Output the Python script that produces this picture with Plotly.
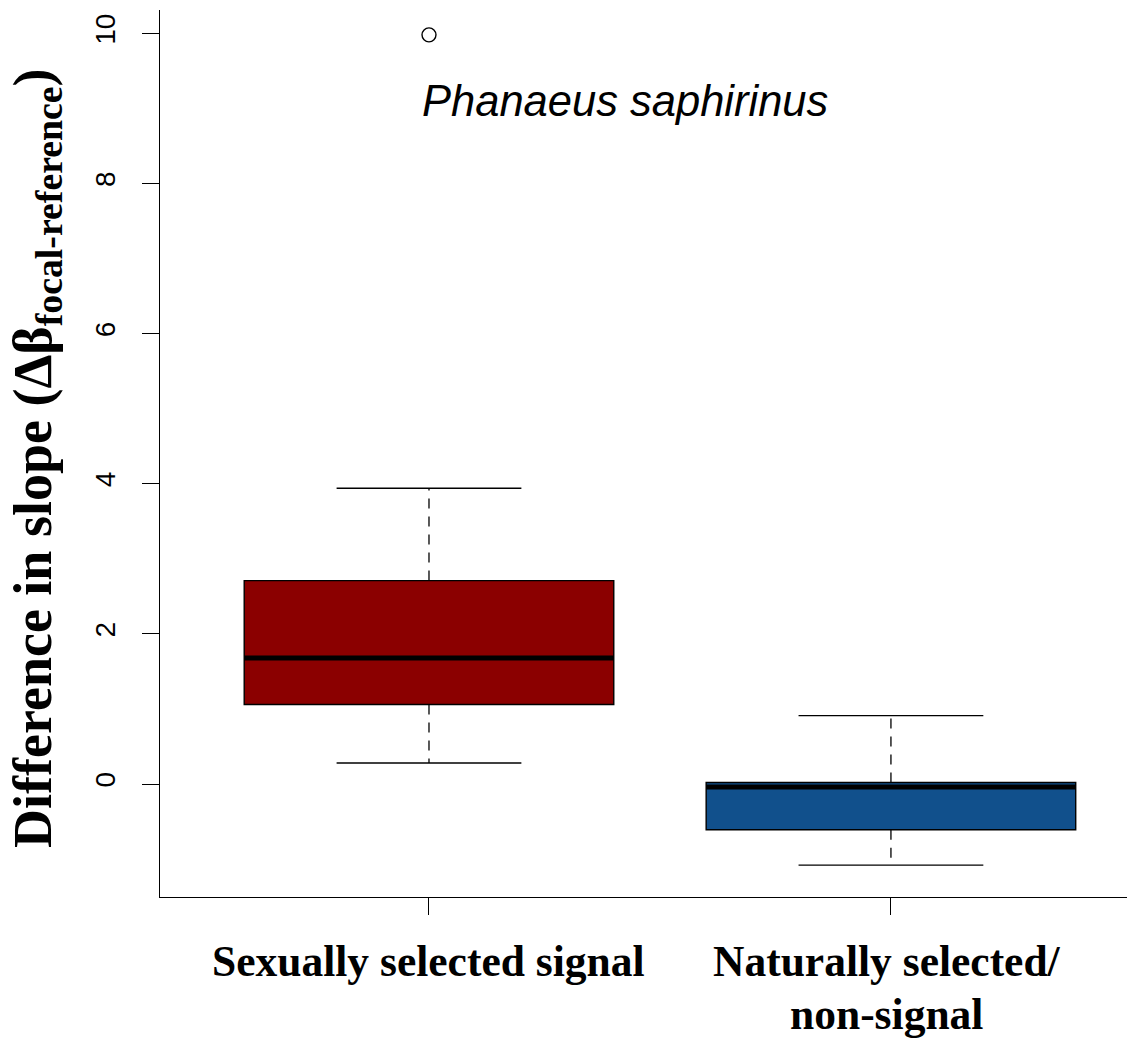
import plotly.graph_objects as go

# ---- data ----
positions = [1, 2]
label_lines = [["Sexually selected signal"], ["Naturally selected/", "non-signal"]]
q1 = [1.06, -0.61]
median = [1.68, -0.04]
q3 = [2.71, 0.02]
whisker_low = [0.28, -1.08]
whisker_high = [3.94, 0.91]
outlier_x = [1]
outlier_y = [9.98]
box_colors = ["#8B0000", "#11508C"]
y_ticks = [0, 2, 4, 6, 8, 10]
species = "Phanaeus saphirinus"

BOX_W = 0.8
CAP_W = 0.4
SERIF = "Liberation Serif, Times New Roman, serif"
SANS = "Liberation Sans, Arial, Helvetica, sans-serif"

fig = go.Figure()

for i, p in enumerate(positions):
    fig.add_trace(go.Box(
        x=[p], q1=[q1[i]], median=[median[i]], q3=[q3[i]],
        lowerfence=[q1[i]], upperfence=[q3[i]],
        width=BOX_W, whiskerwidth=0, boxpoints=False,
        fillcolor=box_colors[i], line=dict(color="black", width=1.4),
        showlegend=False, hoverinfo="skip"))
    # dashed whiskers
    for a, b in [(q3[i], whisker_high[i]), (q1[i], whisker_low[i])]:
        fig.add_trace(go.Scatter(
            x=[p, p], y=[a, b], mode="lines",
            line=dict(color="black", width=1.3, dash="10px,8px"),
            showlegend=False, hoverinfo="skip"))
    # caps
    for yv in [whisker_high[i], whisker_low[i]]:
        fig.add_trace(go.Scatter(
            x=[p - CAP_W / 2, p + CAP_W / 2], y=[yv, yv], mode="lines",
            line=dict(color="black", width=1.3),
            showlegend=False, hoverinfo="skip"))
    # median
    fig.add_trace(go.Scatter(
        x=[p - BOX_W / 2, p + BOX_W / 2], y=[median[i], median[i]], mode="lines",
        line=dict(color="black", width=5),
        showlegend=False, hoverinfo="skip"))

fig.add_trace(go.Scatter(
    x=outlier_x, y=outlier_y, mode="markers",
    marker=dict(symbol="circle-open", size=14, color="black", line=dict(width=1.4)),
    showlegend=False, hoverinfo="skip"))

W, H = 1127, 1038
PLOT_L, PLOT_T, PLOT_B, PLOT_R = 160, 10, 897, 1127
L = PLOT_L
T = PLOT_T
B = H - PLOT_B
R = W - PLOT_R
plot_h = PLOT_B - PLOT_T
plot_w = PLOT_R - PLOT_L

def py(ypix):
    return (PLOT_B - ypix) / plot_h

def px(xpix):
    return (xpix - PLOT_L) / plot_w

annotations = []
# category labels
label_y = [961, 961]
for i, p in enumerate(positions):
    for j, line in enumerate(label_lines[i]):
        annotations.append(dict(
            x=p, xref="x", y=py(label_y[i] + j * 53), yref="paper",
            text="<b>" + line + "</b>", showarrow=False,
            xanchor="center", yanchor="middle", xshift=-4 if i == 1 else 0,
            font=dict(family=SERIF, size=43.5, color="black")))

# y title
annotations.append(dict(
    x=px(36), xref="paper", y=py(458), yref="paper",
    text="<b>Difference in slope (Δβ<sub>focal-reference</sub>)</b>",
    textangle=-90, showarrow=False, xanchor="center", yanchor="middle",
    font=dict(family=SERIF, size=54, color="black")))

# species label
annotations.append(dict(
    x=px(625), xref="paper", y=py(101), yref="paper",
    text="<i>" + species + "</i>", showarrow=False,
    xanchor="center", yanchor="middle",
    font=dict(family=SANS, size=43.5, color="black")))

fig.update_layout(
    width=W, height=H,
    margin=dict(l=L, r=R, t=T, b=B),
    paper_bgcolor="white", plot_bgcolor="white",
    annotations=annotations,
    xaxis=dict(range=[0.4177, 2.511], tickvals=positions, showticklabels=False,
               ticks="outside", ticklen=17, tickwidth=1.3, tickcolor="black",
               showline=True, linecolor="black", linewidth=1.3,
               showgrid=False, zeroline=False, fixedrange=True),
    yaxis=dict(range=[-1.505, 10.311], tickvals=y_ticks,
               ticktext=[str(t) for t in y_ticks], tickangle=-90,
               ticks="outside", ticklen=17, tickwidth=1.3, tickcolor="black",
               tickfont=dict(family=SANS, size=28, color="black"),
               ticklabelstandoff=16,
               showline=True, linecolor="black", linewidth=1.3,
               showgrid=False, zeroline=False, fixedrange=True),
)

fig.write_html(
    "out.html",
    config={"displayModeBar": False},
    post_script="document.body.style.margin='0';document.body.style.overflow='hidden';",
)
